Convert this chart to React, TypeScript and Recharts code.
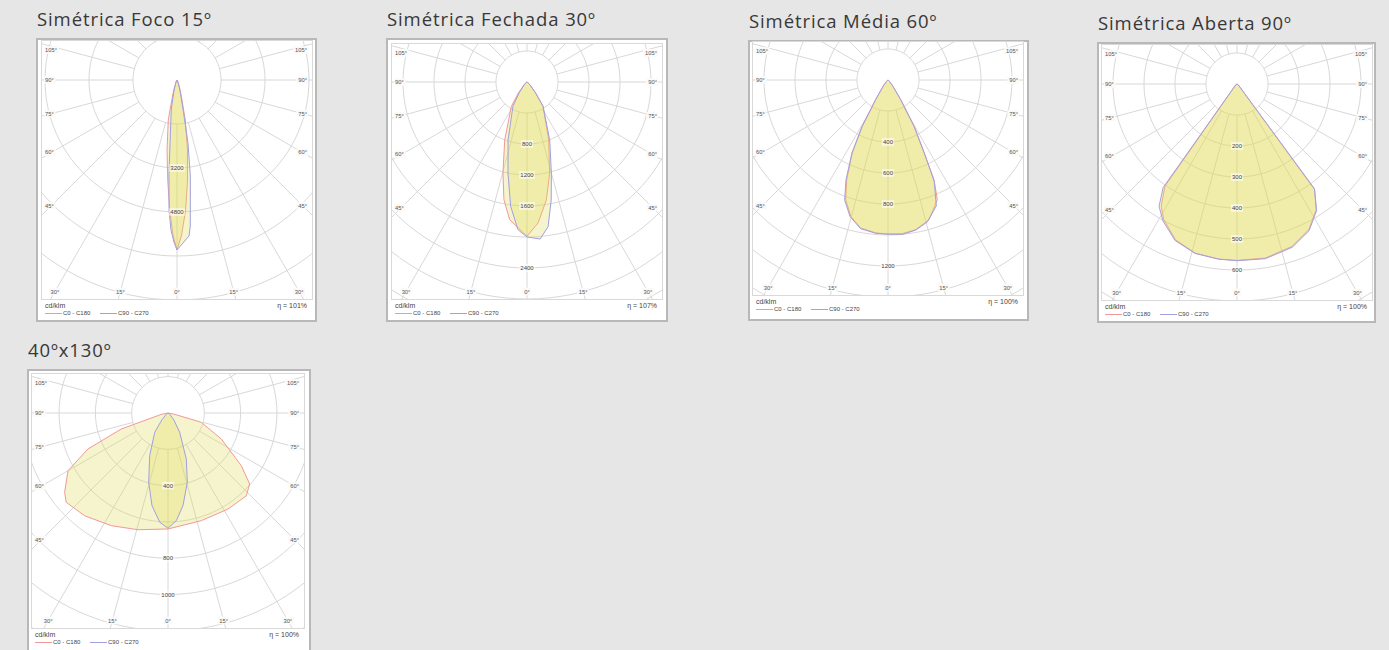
import React from "react";
import { ScatterChart, Scatter, XAxis, YAxis, ReferenceLine } from "recharts";

// ─── Data: [gamma°, cd/klm], negative gamma = left half of the diagram ───

type Pair = [number, number];

const foco15C0: Pair[] = [
  [-90, 0], [-30, 60], [-20, 250], [-16, 567], [-12.3, 1490], [-8.1, 2570], [-5.3, 3650],
  [-3.2, 4735], [-1.5, 5640], [0, 6180], [1.7, 5640], [3.8, 4740], [6, 3655], [8.5, 2575],
  [11.7, 1485], [15.5, 560], [20, 250], [30, 60], [90, 0],
];
const foco15C90: Pair[] = [
  [-90, 0], [-30, 30], [-20, 150], [-15, 450], [-11.1, 1075], [-6.3, 2305], [-4.8, 3500],
  [-3.5, 4735], [-2.3, 5460], [-1.1, 5890], [0, 6180], [4.4, 5690], [5.2, 5330], [7.9, 3525],
  [9.9, 2325], [11.7, 1080], [15, 450], [20, 150], [30, 30], [90, 0],
];

const fechada30C0: Pair[] = [
  [-90, 0], [-60, 10], [-45, 60], [-38, 180], [-32.7, 373], [-21.1, 798], [-14.8, 1214],
  [-11.1, 1547], [-7.2, 1790], [0, 1990], [4.5, 1824], [9.3, 1543], [14, 1210],
  [20.6, 795], [33.4, 375], [38, 180], [45, 60], [60, 10], [90, 0],
];
const fechada30C90: Pair[] = [
  [-90, 0], [-60, 10], [-45, 50], [-36, 170], [-30.3, 358], [-18.1, 787], [-11.8, 1200],
  [-7.5, 1617], [-3.5, 1909], [0, 2000], [4.8, 2033], [8.3, 1886], [11.6, 1554],
  [15, 1215], [21.4, 803], [33.7, 372], [38, 180], [45, 60], [60, 10], [90, 0],
];

const media60C0: Pair[] = [
  [-90, 0], [-60, 3], [-45, 15], [-38, 50], [-32, 150], [-29, 342], [-26.1, 524], [-22.5, 696],
  [-19.5, 819], [-15.3, 911], [-10.5, 971], [-4.6, 990], [0, 993], [5.3, 996], [10.5, 982],
  [16.4, 939], [22.4, 835], [24.8, 708], [26.3, 525], [29.3, 342], [32.8, 151], [38, 50],
  [45, 15], [60, 3], [90, 0],
];
const media60C90: Pair[] = [
  [-90, 0], [-60, 3], [-45, 15], [-38, 50], [-32.3, 150], [-29.2, 342], [-26.3, 525], [-22.8, 700],
  [-19.8, 825], [-15.5, 915], [-10.5, 975], [-4.6, 992], [0, 995], [5.3, 1000], [10.5, 985],
  [15.5, 950], [21, 870], [24.5, 720], [26.5, 525], [29.5, 342], [33, 151], [38, 50],
  [45, 15], [60, 3], [90, 0],
];

const aberta90C0: Pair[] = [
  [-90, 0], [-55, 5], [-38, 30], [-35.2, 403], [-31.8, 464], [-28.4, 497], [-21.6, 540],
  [-13.9, 562], [-6, 568], [0, 569], [9.2, 569], [18.7, 553], [26.2, 524], [32.2, 479],
  [36.3, 423], [39, 30], [55, 5], [90, 0],
];
const aberta90C90: Pair[] = [
  [-90, 0], [-55, 5], [-38.5, 30], [-35.5, 410], [-32.5, 468], [-28.4, 502], [-21.6, 543],
  [-13.9, 563], [-6, 568], [0, 570], [9.2, 571], [18.7, 556], [26.2, 527], [32.2, 482],
  [36.5, 420], [39.5, 30], [55, 5], [90, 0],
];

const wide40x130C0: Pair[] = [
  [-90, 0], [-78, 40], [-71.1, 272], [-65.8, 483], [-60, 636], [-52.5, 718], [-48.7, 746],
  [-39, 729], [-26.7, 695], [-14.4, 664], [0, 639], [17.2, 621], [32, 624], [43.4, 628],
  [49, 596], [54.3, 497], [64, 327], [74.4, 190], [80, 30], [90, 0],
];
const wide40x130C90: Pair[] = [
  [-90, 0], [-60, 5], [-50, 15], [-42, 50], [-34.6, 129], [-23.2, 256], [-15.6, 396],
  [-9.8, 518], [-4.3, 604], [0, 635], [4.4, 595], [9.2, 517], [15.6, 396], [21.7, 273],
  [31.2, 124], [40, 50], [50, 15], [60, 5], [90, 0],
];

// ring labels shown on the 0° axis
const foco15Rings = [3200, 4800];
const fechada30Rings = [800, 1200, 1600, 2400];
const media60Rings = [400, 600, 800, 1200];
const aberta90Rings = [200, 300, 400, 500, 600];
const wide40x130Rings = [400, 800, 1000];

// angle tick labels
const sideAngles = [105, 90, 75, 60, 45];
const bottomAngles = [-30, -15, 0, 15, 30];

// ─── Styles ────────────────────────────────────────────────────────

const GRID = "#d8d8d8";
const RED = "#f29898";
const BLUE = "#a0a0e2";
const FILL = "#e1dc5a";
const SMALL_FONT = "'Liberation Sans', Arial, sans-serif";
const RAD = Math.PI / 180;

interface PanelSpec {
  title: string;
  box: [number, number, number, number];
  plot: [number, number, number, number];
  cy: number;
  step: number;
  ringPx: number;
  c0: Pair[];
  c90: Pair[];
  rings: number[];
  eta: string;
}

const panels: PanelSpec[] = [
  { title: "Simétrica Foco 15º", box: [36, 38, 281, 284], plot: [42, 41, 270, 258], cy: 39, step: 1600, ringPx: 44, c0: foco15C0, c90: foco15C90, rings: foco15Rings, eta: "101%" },
  { title: "Simétrica Fechada 30º", box: [386, 38, 282, 284], plot: [392, 44, 270, 255], cy: 38, step: 400, ringPx: 31, c0: fechada30C0, c90: fechada30C90, rings: fechada30Rings, eta: "107%" },
  { title: "Simétrica Média 60º", box: [748, 40, 281, 281], plot: [753, 42, 270, 253], cy: 38, step: 200, ringPx: 31, c0: media60C0, c90: media60C90, rings: media60Rings, eta: "100%" },
  { title: "Simétrica Aberta 90º", box: [1097, 42, 279, 281], plot: [1102, 45, 270, 255], cy: 39, step: 100, ringPx: 31, c0: aberta90C0, c90: aberta90C90, rings: aberta90Rings, eta: "100%" },
  { title: "40ºx130º", box: [27, 369, 284, 292], plot: [32, 374, 272, 254], cy: 39, step: 200, ringPx: 36.3, c0: wide40x130C0, c90: wide40x130C90, rings: wide40x130Rings, eta: "100%" },
];

// ─── Helpers ───────────────────────────────────────────────────────

const toXY = (pairs: Pair[]) =>
  pairs.map(([g, i]) => ({ x: i * Math.sin(g * RAD), y: -i * Math.cos(g * RAD) }));

const circle = (r: number) => {
  const pts = [];
  for (let a = 0; a <= 360; a += 3) pts.push({ x: r * Math.sin(a * RAD), y: -r * Math.cos(a * RAD) });
  return pts;
};

const NoDot = () => <g />;

function RingLabel(props: any) {
  const { cx, cy, payload } = props;
  const t = String(payload.v);
  const w = t.length * 3.4 + 2;
  return (
    <g>
      <rect x={cx - w / 2} y={cy - 3.8} width={w} height={7.6} fill="#fff" fillOpacity={0.6} />
      <text x={cx} y={cy} dy="0.35em" textAnchor="middle" fontSize={6} fill="#444" fontFamily={SMALL_FONT}>
        {t}
      </text>
    </g>
  );
}

function AngleLabel(props: any) {
  const { cx, cy, payload } = props;
  const t = payload.t as string;
  const w = t.length * 3.2 + 2;
  const x0 = payload.anchor === "start" ? cx - 1 : payload.anchor === "end" ? cx - w + 1 : cx - w / 2;
  return (
    <g>
      <rect x={x0} y={cy - 3.8} width={w} height={7.6} fill="#fafafa" />
      <text x={cx} y={cy} dy="0.35em" textAnchor={payload.anchor} fontSize={5.8} fill="#555" fontFamily={SMALL_FONT}>
        {t}
      </text>
    </g>
  );
}

// ─── Panel ─────────────────────────────────────────────────────────

function PolarPanel({ p }: { p: PanelSpec }) {
  const [bx, by, bw, bh] = p.box;
  const [px, py, pw, ph] = p.plot;
  const upp = p.step / p.ringPx; // cd/klm per pixel
  const half = pw / 2;
  const below = ph - p.cy;
  const xDom = [-half * upp, half * upp];
  const yDom = [-below * upp, p.cy * upp];

  const nRings = Math.ceil(Math.hypot(half, below) / p.ringPx) + 1;
  const ringVals = Array.from({ length: nRings }, (_, k) => (k + 1) * p.step);
  const outer = (nRings + 1) * p.step;
  const radials = Array.from({ length: 24 }, (_, k) => k * 15);

  const angleLabels: { x: number; y: number; t: string; anchor: string }[] = [];
  const inner = half - 9.5;
  for (const th of sideAngles) {
    let dy = inner / Math.tan(th * RAD);
    if (Math.abs(dy) < 1e-6) dy = 0;
    dy = Math.max(dy, -(p.cy - 9));
    angleLabels.push({ x: -(half - 3) * upp, y: -dy * upp, t: `${th}°`, anchor: "start" });
    angleLabels.push({ x: (half - 5) * upp, y: -dy * upp, t: `${th}°`, anchor: "end" });
  }
  const dyb = below - 7.5;
  for (const g of bottomAngles) {
    angleLabels.push({ x: dyb * Math.tan(g * RAD) * upp, y: -dyb * upp, t: `${Math.abs(g)}°`, anchor: "middle" });
  }
  const ringLabelPts = p.rings.map((v) => ({ x: 0, y: -v, v }));

  const legendY = py + ph;
  const small: React.CSSProperties = { position: "absolute", fontFamily: SMALL_FONT, color: "#444", whiteSpace: "nowrap", lineHeight: 1 };

  return (
    <>
      <div
        style={{
          position: "absolute", left: bx + 1, top: by - 29, fontFamily: "'Open Sans', sans-serif",
          fontSize: 18.5, lineHeight: "20px", letterSpacing: 0.9, color: "#383838", whiteSpace: "nowrap",
        }}
      >
        {p.title}
      </div>
      <div
        style={{
          position: "absolute", left: bx, top: by, width: bw, height: bh,
          border: "2px solid #b8b8b8", background: "#fff", boxSizing: "border-box",
        }}
      />
      <div
        style={{
          position: "absolute", left: px - 1, top: py - 1, width: pw, height: ph,
          border: "1px solid #d9d9d9", overflow: "hidden", background: "#fff",
        }}
      >
        <ScatterChart width={pw} height={ph} margin={{ top: 0, right: 0, bottom: 0, left: 0 }}>
          <XAxis type="number" dataKey="x" domain={xDom} allowDataOverflow hide />
          <YAxis type="number" dataKey="y" domain={yDom} allowDataOverflow hide />
          {ringVals.map((r) => (
            <Scatter
              key={`ring-${r}`}
              data={circle(r)}
              line={{ stroke: GRID, strokeWidth: 1 }}
              shape={NoDot}
              isAnimationActive={false}
            />
          ))}
          {radials.map((a) => (
            <ReferenceLine
              key={`rad-${a}`}
              segment={[
                { x: p.step * Math.sin(a * RAD), y: -p.step * Math.cos(a * RAD) },
                { x: outer * Math.sin(a * RAD), y: -outer * Math.cos(a * RAD) },
              ]}
              stroke={GRID}
              strokeWidth={1}
              ifOverflow="hidden"
            />
          ))}
          <Scatter
            data={toXY(p.c0)}
            line={{ stroke: RED, strokeWidth: 1, fill: FILL, fillOpacity: 0.3 }}
            lineJointType="linearClosed"
            shape={NoDot}
            isAnimationActive={false}
          />
          <Scatter
            data={toXY(p.c90)}
            line={{ stroke: BLUE, strokeWidth: 1, fill: FILL, fillOpacity: 0.3 }}
            lineJointType="linearClosed"
            shape={NoDot}
            isAnimationActive={false}
          />
          <Scatter data={ringLabelPts} shape={RingLabel} isAnimationActive={false} />
          <Scatter data={angleLabels} shape={AngleLabel} isAnimationActive={false} />
        </ScatterChart>
      </div>
      <div style={{ ...small, left: px + 3, top: legendY + 3, fontSize: 7 }}>cd/klm</div>
      <div style={{ ...small, left: px + pw - 45, width: 40, textAlign: "right", top: legendY + 3, fontSize: 7 }}>
        η = {p.eta}
      </div>
      <div style={{ position: "absolute", left: px + 3, top: legendY + 14, width: 17, height: 1, background: RED }} />
      <div style={{ ...small, left: px + 21, top: legendY + 11, fontSize: 6 }}>C0 - C180</div>
      <div style={{ position: "absolute", left: px + 58, top: legendY + 14, width: 17, height: 1, background: BLUE }} />
      <div style={{ ...small, left: px + 76, top: legendY + 11, fontSize: 6 }}>C90 - C270</div>
    </>
  );
}

export default function App() {
  return (
    <div
      style={{
        position: "absolute", left: 0, top: 0, width: 1389, height: 650,
        background: "#e6e6e6", overflow: "hidden",
      }}
    >
      {panels.map((p) => (
        <PolarPanel key={p.title} p={p} />
      ))}
    </div>
  );
}
